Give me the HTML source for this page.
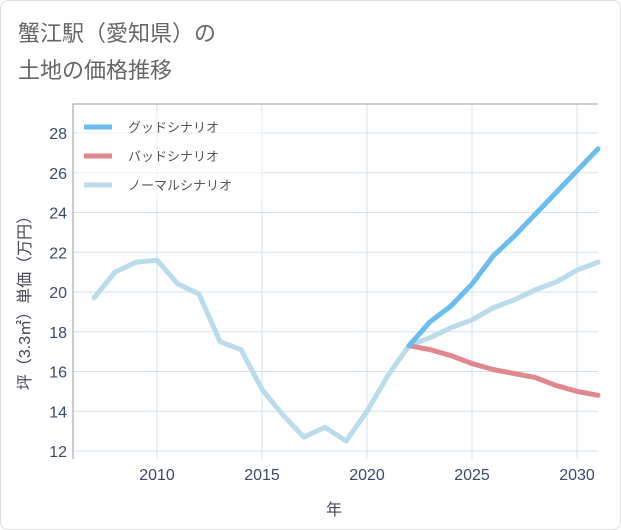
<!DOCTYPE html>
<html><head><meta charset="utf-8"><style>
body{margin:0;background:#fff;font-family:"Liberation Sans","Noto Sans CJK JP",sans-serif}
#wrap{position:relative;width:619px;height:528px;border:1px solid #ddd;border-radius:8px;overflow:hidden}
</style></head><body>
<div id="wrap">
<svg id="c" width="621" height="530"></svg>
</div>
<script>
const years=[2007,2008,2009,2010,2011,2012,2013,2014,2015,2016,2017,2018,2019,2020,2021,2022,2023,2024,2025,2026,2027,2028,2029,2030,2031];
const normal=[19.7,21.0,21.5,21.6,20.4,19.9,17.5,17.1,15.1,13.8,12.7,13.2,12.5,14.0,15.8,17.3,17.7,18.2,18.6,19.2,19.6,20.1,20.5,21.1,21.5];
const futureYears=[2022,2023,2024,2025,2026,2027,2028,2029,2030,2031];
const good=[17.3,18.5,19.3,20.4,21.8,22.8,23.9,25.0,26.1,27.2];
const bad=[17.3,17.1,16.8,16.4,16.1,15.9,15.7,15.3,15.0,14.8];
const xTicks=[2010,2015,2020,2025,2030];
const yTicks=[12,14,16,18,20,22,24,26,28];
const NS="http://www.w3.org/2000/svg";
const svg=document.getElementById('c');
const L=72,R=597,T=103,B=458;
const x=v=>156+(v-2010)*21;
const y=v=>450-(v-12)*19.875;
function mk(tag,attrs,parent){const e=document.createElementNS(NS,tag);for(const k in attrs)e.setAttribute(k,attrs[k]);(parent||svg).appendChild(e);return e;}
function txt(s,attrs){const e=mk('text',attrs);e.textContent=s;return e;}
let t=txt('蟹江駅（愛知県）の',{x:17,y:40,'font-size':22,fill:'#666'});


t=txt('土地の価格推移',{x:17,y:77,'font-size':22,fill:'#666'});


xTicks.forEach(v=>{const g=mk('line',{x1:x(v),x2:x(v),y1:T,y2:B,stroke:'#d6e3ec','stroke-width':1});


const l=txt(String(v),{x:x(v),y:479,'font-size':16,fill:'#3a4a6a','text-anchor':'middle'});

});
yTicks.forEach(v=>{const g=mk('line',{x1:L,x2:R,y1:y(v),y2:y(v),stroke:'#d6e3ec','stroke-width':1});


const l=txt(String(v),{x:66,y:y(v)+6,'font-size':16,fill:'#3a4a6a','text-anchor':'end'});

});
const ax=mk('path',{d:`M${L} ${B}V${T}H${R}`,fill:'none',stroke:'#999','stroke-width':1});


function line(xs,vs,color,name){const p=mk('polyline',{points:vs.map((v,i)=>x(xs[i])+','+y(v)).join(' '),fill:'none',stroke:color,'stroke-width':5,'stroke-linejoin':'round','stroke-linecap':'round'});

}
line(years,normal,'#b9dcec','normal-scenario-line');
line(futureYears,bad,'#df8890','bad-scenario-line');
line(futureYears,good,'#6bbdf0','good-scenario-line');
const lg=mk('rect',{x:76,y:112,width:186,height:88,fill:'#fff','fill-opacity':0.5});


[['グッドシナリオ','#6bbdf0','legend-good'],['バッドシナリオ','#df8890','legend-bad'],['ノーマルシナリオ','#b9dcec','legend-normal']].forEach((d,i)=>{
const yy=126+i*29;
const s=mk('line',{x1:83,x2:111,y1:yy,y2:yy,stroke:d[1],'stroke-width':5});


const l=txt(d[0],{x:127,y:yy+5,'font-size':13,fill:'#555'});

});
t=txt('年',{x:333,y:514,'font-size':16,fill:'#445','text-anchor':'middle'});


t=txt('坪（3.3㎡）単価（万円）',{x:0,y:0,'font-size':16,fill:'#445','text-anchor':'middle',transform:'translate(29,298) rotate(-90)'});


</script>
</body></html>
